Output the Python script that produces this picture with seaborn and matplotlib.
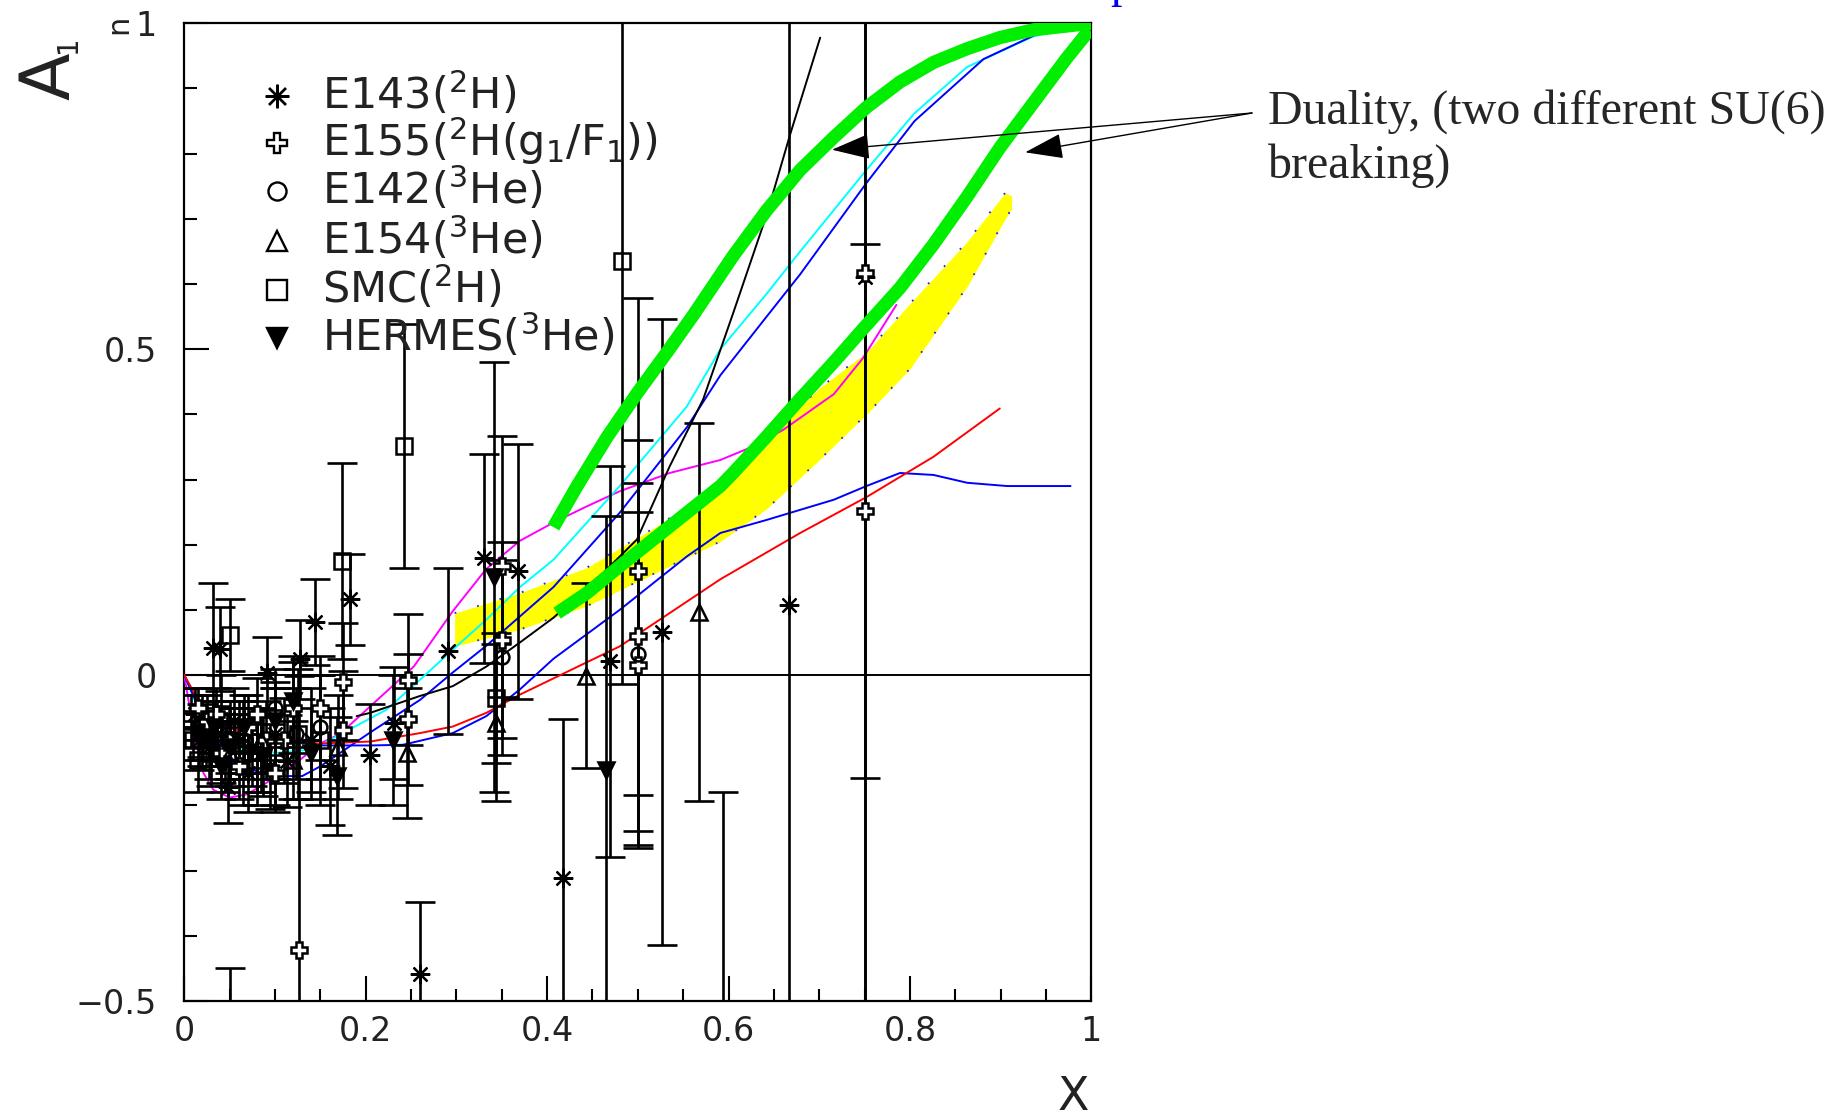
import numpy as np
import matplotlib
matplotlib.use("Agg")
import matplotlib.pyplot as plt
from matplotlib.ticker import MultipleLocator
import seaborn as sns

# ---------------- model curves ----------------
green_up_x = [0.407, 0.433, 0.466, 0.499, 0.532, 0.561, 0.605, 0.642, 0.679, 0.716, 0.752, 0.789, 0.826, 0.863, 0.899, 0.936, 1.0]
green_up_y = [0.227, 0.29, 0.365, 0.432, 0.495, 0.552, 0.643, 0.713, 0.775, 0.825, 0.871, 0.91, 0.94, 0.961, 0.978, 0.99, 1.0]
green_lo_x = [0.411, 0.444, 0.48, 0.517, 0.554, 0.591, 0.605, 0.642, 0.679, 0.716, 0.752, 0.789, 0.826, 0.863, 0.899, 0.936, 0.973, 0.998]
green_lo_y = [0.095, 0.126, 0.167, 0.208, 0.249, 0.29, 0.31, 0.366, 0.424, 0.48, 0.537, 0.594, 0.661, 0.734, 0.809, 0.878, 0.947, 0.99]

yel_x = [0.298, 0.37, 0.444, 0.517, 0.591, 0.642, 0.70, 0.752, 0.80, 0.863, 0.905, 0.912]
yel_hi = [0.095, 0.126, 0.165, 0.225, 0.29, 0.36, 0.44, 0.495, 0.57, 0.665, 0.74, 0.735]
yel_lo = [0.044, 0.07, 0.106, 0.155, 0.205, 0.255, 0.33, 0.40, 0.47, 0.596, 0.70, 0.715]

cyan_x = [0, 0.017, 0.04, 0.069, 0.105, 0.142, 0.168, 0.223, 0.26, 0.296, 0.333, 0.37, 0.407, 0.48, 0.554, 0.591, 0.642, 0.679, 0.752, 0.805, 0.863, 0.936, 1.0]
cyan_y = [0, -0.058, -0.095, -0.119, -0.119, -0.114, -0.094, -0.053, -0.007, 0.039, 0.085, 0.135, 0.177, 0.29, 0.412, 0.5, 0.585, 0.65, 0.775, 0.862, 0.933, 0.98, 1.0]

blue1_x = [0, 0.01, 0.03, 0.06, 0.1, 0.13, 0.15, 0.205, 0.26, 0.296, 0.333, 0.37, 0.407, 0.48, 0.554, 0.591, 0.642, 0.679, 0.752, 0.805, 0.881, 0.95, 1.0]
blue1_y = [0, -0.03, -0.09, -0.14, -0.155, -0.155, -0.14, -0.088, -0.038, 0.004, 0.045, 0.09, 0.135, 0.249, 0.38, 0.46, 0.55, 0.615, 0.755, 0.85, 0.945, 0.99, 1.0]

blue2_x = [0, 0.0136, 0.032, 0.069, 0.105, 0.15, 0.205, 0.241, 0.296, 0.333, 0.37, 0.407, 0.48, 0.554, 0.591, 0.642, 0.716, 0.752, 0.789, 0.826, 0.863, 0.907, 0.977]
blue2_y = [0, -0.043, -0.073, -0.088, -0.099, -0.108, -0.108, -0.107, -0.089, -0.063, -0.022, 0.025, 0.1, 0.182, 0.218, 0.238, 0.269, 0.29, 0.31, 0.307, 0.295, 0.29, 0.29]

red_x = [0, 0.02, 0.043, 0.1, 0.15, 0.205, 0.26, 0.296, 0.333, 0.37, 0.48, 0.591, 0.679, 0.752, 0.826, 0.899]
red_y = [0, -0.05, -0.079, -0.1, -0.105, -0.102, -0.089, -0.079, -0.058, -0.03, 0.044, 0.147, 0.218, 0.273, 0.335, 0.409]

mag_x = [0, 0.006, 0.012, 0.021, 0.032, 0.05, 0.069, 0.091, 0.124, 0.15, 0.172, 0.205, 0.253, 0.296, 0.333, 0.37, 0.407, 0.444, 0.48, 0.535, 0.591, 0.624, 0.66, 0.716, 0.748, 0.785]
mag_y = [0, -0.05, -0.099, -0.15, -0.176, -0.188, -0.183, -0.165, -0.134, -0.105, -0.09, -0.048, 0.013, 0.098, 0.163, 0.206, 0.234, 0.259, 0.282, 0.31, 0.33, 0.349, 0.376, 0.431, 0.486, 0.568]

blk_x = [0.19, 0.205, 0.26, 0.296, 0.333, 0.37, 0.407, 0.462, 0.499, 0.535, 0.572, 0.605, 0.642, 0.668, 0.701]
blk_y = [-0.063, -0.058, -0.032, -0.017, 0.013, 0.05, 0.088, 0.157, 0.208, 0.32, 0.423, 0.555, 0.706, 0.83, 0.978]

# ---------------- data points (x, A1n, error) ----------------
e143_x = [0.012, 0.016, 0.02, 0.027, 0.036, 0.045, 0.048, 0.055, 0.06, 0.07, 0.075, 0.085, 0.095, 0.1, 0.113, 0.14,
          0.032, 0.039, 0.091, 0.128, 0.144, 0.161, 0.183, 0.205, 0.231, 0.26, 0.291, 0.33, 0.368, 0.417, 0.469, 0.527, 0.667, 0.75]
e143_y = [-0.06, -0.1, -0.085, -0.11, -0.09, -0.13, -0.172, -0.07, -0.1, -0.15, -0.11, -0.12, -0.14, -0.09, -0.132, -0.1,
          0.042, 0.04, 0.003, 0.024, 0.081, -0.14, 0.116, -0.122, -0.073, -0.458, 0.037, 0.179, 0.159, -0.312, 0.021, 0.066, 0.108, 0.61]
e143_e = [0.04, 0.045, 0.04, 0.05, 0.05, 0.05, 0.055, 0.05, 0.06, 0.06, 0.06, 0.06, 0.065, 0.07, 0.07, 0.08,
          0.1, 0.065, 0.056, 0.06, 0.066, 0.09, 0.07, 0.078, 0.086, 0.11, 0.128, 0.16, 0.195, 0.245, 0.3, 0.48, 1.2, 1.5]

e155_x = [0.015, 0.025, 0.035, 0.04, 0.05, 0.06, 0.07, 0.08, 0.09, 0.1, 0.11, 0.12, 0.15, 0.126, 0.175, 0.175, 0.247, 0.247, 0.35, 0.35, 0.5, 0.5, 0.5, 0.75, 0.75]
e155_y = [-0.05, -0.07, -0.06, -0.12, -0.1, -0.14, -0.08, -0.06, -0.1, -0.15, -0.1, -0.05, -0.05, -0.422, -0.01, -0.084, -0.007, -0.068, 0.167, 0.054, 0.159, 0.06, 0.015, 0.617, 0.252]
e155_e = [0.03, 0.04, 0.04, 0.045, 0.05, 0.05, 0.05, 0.055, 0.06, 0.06, 0.065, 0.07, 0.08, 0.42, 0.09, 0.09, 0.1, 0.1, 0.2, 0.15, 0.42, 0.3, 0.28, 1.5, 0.41]

e142_x = [0.035, 0.047, 0.066, 0.08, 0.1, 0.123, 0.15, 0.35, 0.5]
e142_y = [-0.08, -0.1, -0.1, -0.12, -0.05, -0.09, -0.08, 0.027, 0.033]
e142_e = [0.03, 0.04, 0.05, 0.06, 0.06, 0.07, 0.08, 0.15, 0.217]

e154_x = [0.03, 0.05, 0.085, 0.12, 0.17, 0.246, 0.344, 0.443, 0.567]
e154_y = [-0.1, -0.12, -0.1, -0.13, -0.11, -0.12, -0.073, -0.001, 0.097]
e154_e = [0.04, 0.05, 0.05, 0.06, 0.08, 0.1, 0.12, 0.142, 0.29]

smc_x = [0.007, 0.01, 0.015, 0.02, 0.03, 0.04, 0.05, 0.05, 0.05, 0.065, 0.08, 0.1, 0.125, 0.15, 0.174, 0.242, 0.344, 0.482, 0.594]
smc_y = [-0.07, -0.1, -0.13, -0.08, -0.12, -0.06, 0.061, -0.1, -0.62, -0.12, -0.13, -0.11, -0.09, -0.1, 0.175, 0.352, -0.035, 0.636, -0.7]
smc_e = [0.04, 0.03, 0.05, 0.05, 0.05, 0.06, 0.055, 0.06, 0.17, 0.08, 0.07, 0.09, 0.1, 0.1, 0.15, 0.187, 0.1, 0.65, 0.52]

her_x = [0.02, 0.033, 0.04, 0.05, 0.066, 0.087, 0.1, 0.12, 0.14, 0.168, 0.23, 0.341, 0.465]
her_y = [-0.1, -0.08, -0.14, -0.11, -0.08, -0.125, -0.07, -0.04, -0.12, -0.155, -0.1, 0.15, -0.146]
her_e = [0.04, 0.04, 0.05, 0.05, 0.05, 0.06, 0.06, 0.07, 0.07, 0.09, 0.1, 0.33, 0.39]

legend_labels = [r"E143($^{2}$H)", r"E155($^{2}$H(g$_{1}$/F$_{1}$))", r"E142($^{3}$He)",
                 r"E154($^{3}$He)", r"SMC($^{2}$H)", r"HERMES($^{3}$He)"]
legend_y = [0.888, 0.817, 0.742, 0.666, 0.591, 0.517]

xtick_vals = [0, 0.2, 0.4, 0.6, 0.8, 1.0]
xtick_labels = ["0", "0.2", "0.4", "0.6", "0.8", "1"]
ytick_vals = [-0.5, 0, 0.5, 1.0]
ytick_labels = ["\u22120.5", "0", "0.5", "1"]

# ---------------- style ----------------
sns.set_theme(style="white")
plt.rcParams["font.family"] = ["DejaVu Sans"]
plt.rcParams["mathtext.fontset"] = "dejavusans"
plt.rcParams["mathtext.default"] = "regular"

fig = plt.figure(figsize=(18.3, 11.19), dpi=100)
ax = fig.add_axes([0.1007, 0.1055, 0.4957, 0.8737])
ax.set_xlim(0, 1)
ax.set_ylim(-0.5, 1)

# yellow band
ax.fill_between(yel_x, yel_lo, yel_hi, color="#ffff00", lw=0, zorder=1)
ax.plot(yel_x, yel_hi, color="#2020ff", ls=(0, (1, 12)), lw=1.3, zorder=1.5)
ax.plot(yel_x, yel_lo, color="#2020ff", ls=(0, (1, 12)), lw=1.3, zorder=1.5)

ax.axhline(0, color="black", lw=1.4, zorder=2)

# thin curves
for cx, cy, col in [(mag_x, mag_y, "#ff00ff"), (cyan_x, cyan_y, "#00ffff"),
                    (blue1_x, blue1_y, "#0000ff"), (blue2_x, blue2_y, "#0000ff"),
                    (red_x, red_y, "#ff0000"), (blk_x, blk_y, "black")]:
    sns.lineplot(x=cx, y=cy, color=col, lw=1.4, sort=False, estimator=None, ax=ax, zorder=3)


def draw_set(xs, ys, es, marker, ms, mfc, mew=1.8):
    ax.errorbar(xs, ys, yerr=es, fmt="none", ecolor="black", elinewidth=1.9,
                capsize=11, capthick=1.9, zorder=4)
    ax.plot(xs, ys, ls="none", marker=marker, ms=ms, mfc=mfc, mec="black", mew=mew, zorder=5)


draw_set(e143_x, e143_y, e143_e, (8, 2, 0), 14, "black", 1.6)
draw_set(e155_x, e155_y, e155_e, "P", 12, "white")
draw_set(e142_x, e142_y, e142_e, "o", 10, "none")
draw_set(e154_x, e154_y, e154_e, "^", 12, "none")
draw_set(smc_x, smc_y, smc_e, "s", 11.5, "none")
draw_set(her_x, her_y, her_e, "v", 12, "black")

# green duality curves
for gx, gy in [(green_up_x, green_up_y), (green_lo_x, green_lo_y)]:
    sns.lineplot(x=gx, y=gy, color="#00ee00", lw=9.5, sort=False, estimator=None, ax=ax,
                 zorder=6, solid_capstyle="butt", solid_joinstyle="round")

# legend
leg_markers = [((8, 2, 0), 17, "black"), ("P", 15, "none"), ("o", 13, "none"),
               ("^", 15, "none"), ("s", 14, "none"), ("v", 15, "black")]
for (mk, ms, fc), ly, lab in zip(leg_markers, legend_y, legend_labels):
    ax.plot([0.102], [ly], marker=mk, ms=ms, mfc=fc, mec="black", mew=1.7, ls="none", zorder=7)
    ax.text(0.1515, ly - 0.02, lab, fontsize=31, va="baseline", ha="left", color="#222222", zorder=7)

# axes cosmetics
for sp in ax.spines.values():
    sp.set_color("black")
    sp.set_linewidth(1.6)
ax.set_xticks(xtick_vals)
ax.set_xticklabels(xtick_labels)
ax.set_yticks(ytick_vals)
ax.set_yticklabels(ytick_labels)
ax.xaxis.set_minor_locator(MultipleLocator(0.05))
ax.yaxis.set_minor_locator(MultipleLocator(0.1))
ax.tick_params(which="both", direction="in", top=False, right=False, bottom=True, left=True,
               color="black", width=1.5)
ax.tick_params(which="major", length=18)
ax.tick_params(which="minor", length=9)
ax.tick_params(axis="x", which="major", labelsize=24, pad=10, labelcolor="#222222")
ax.tick_params(axis="y", which="major", labelsize=24, pad=20, labelcolor="#222222")
ax.grid(False)
ax.set_xlabel("")
ax.set_ylabel("")

# axis titles
fig.text(1073 / 1830, 1 - 1097 / 1119, "X", fontsize=33, ha="center", va="center", color="#222222")
fig.text(50 / 1830, 1 - 76 / 1119, "A", fontsize=50, rotation=90, ha="center", va="center", color="#222222")
fig.text(68 / 1830, 1 - 44 / 1119, "1", fontsize=20, rotation=90, ha="center", va="center", color="#222222")
fig.text(119 / 1830, 1 - 24 / 1119, "n", fontsize=22, rotation=90, ha="center", va="center", color="#222222")

# annotation
serif = ["Liberation Serif", "DejaVu Serif"]
for tip in [(0.714, 0.806), (0.927, 0.802)]:
    ax.annotate("", xy=tip, xycoords="data", xytext=(1252, 1119 - 113), textcoords="figure pixels",
                arrowprops=dict(arrowstyle="-|>,head_length=1.2,head_width=0.4", mutation_scale=20,
                                color="black", lw=1.0, shrinkA=0, shrinkB=0),
                annotation_clip=False, zorder=8)
fig.text(1268 / 1830, 1 - 124 / 1119, "Duality, (two different SU(6)", fontsize=34.5,
         family=serif, ha="left", va="baseline")
fig.text(1268 / 1830, 1 - 178 / 1119, "breaking)", fontsize=34.5,
         family=serif, ha="left", va="baseline")
fig.text(1110 / 1830, 1 + 3 / 1119, "p", fontsize=33, family=serif, color="#0000ee",
         ha="left", va="baseline")

fig.savefig("out.png", dpi=100)
